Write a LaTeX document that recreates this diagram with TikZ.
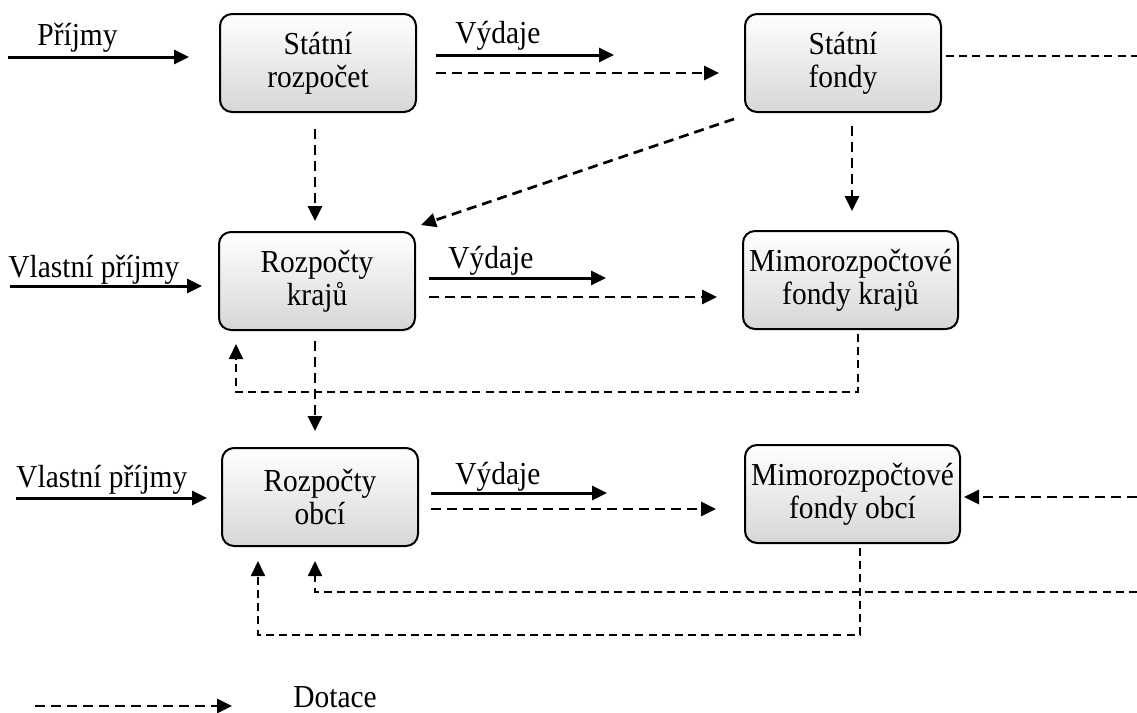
\documentclass[tikz,border=0pt]{standalone}
\usepackage{fontspec}
\setmainfont{Liberation Serif}[FakeStretch=0.92]
\usetikzlibrary{arrows.meta,calc}

\tikzset{
  budget/.style={draw=black, line width=1pt, rounded corners=6pt,
    top color=white, bottom color=black!16, minimum height=49pt,
    inner sep=0pt, align=center, font=\fontsize{16}{16.5}\selectfont},
  narrowbox/.style={budget, minimum width=98pt},
  widebox/.style={budget, minimum width=107.5pt},
  lbl/.style={inner sep=0pt, anchor=base west, font=\fontsize{16}{16.5}\selectfont},
  tip/.style={-{Triangle[length=7.5pt,width=7pt]}},
  flow/.style={tip, line width=1.5pt},
  grant/.style={tip, line width=1.35pt, dash pattern=on 5pt off 3pt},
  grantthin/.style={line width=0.9pt, dash pattern=on 4pt off 2.6pt},
}

\begin{document}
\begin{tikzpicture}[x=0.5pt, y=-0.5pt]
\useasboundingbox (0,0) rectangle (1137,713);

% budgets and funds
\node[narrowbox] (sr) at (318,63)    {Státní\\rozpočet};
\node[narrowbox] (sf) at (843,63)    {Státní\\fondy};
\node[narrowbox] (rk) at (317,281)   {Rozpočty\\krajů};
\node[widebox]   (mk) at (850.5,280) {Mimorozpočtové\\fondy krajů};
\node[narrowbox] (ro) at (320,497)   {Rozpočty\\obcí};
\node[widebox]   (mo) at (852.5,494) {Mimorozpočtové\\fondy obcí};

% free ends at the margins
\coordinate (inSR)  at (8,57);
\coordinate (inRK)  at (10,286);
\coordinate (inRO)  at (16,498);
\coordinate (outSF) at (1137,56);
\coordinate (inMO)  at (1137,497);
\coordinate (inROb) at (1137,592);
\coordinate (legS)  at (35,706);
\coordinate (legE)  at (232,706);

% revenues
\draw[flow] (inSR) -- ($(sr.west)+(-30,-6)$);
\node[lbl] (tP) at (37,45) {Příjmy};
\draw[flow] (inRK) -- ($(rk.west)+(-16,5)$);
\node[lbl] (tVP1) at (8,277) {Vlastní příjmy};
\draw[flow] (inRO) -- ($(ro.west)+(-14,1)$);
\node[lbl] (tVP2) at (16,487) {Vlastní příjmy};

% expenditures
\draw[flow] ($(sr.east)+(19,-8)$) -- ($(sf.west)+(-130,-8)$);
\node[lbl] (tV1) at (455,43) {Výdaje};
\draw[flow] ($(rk.east)+(13,-3)$) -- ($(mk.west)+(-136,-2)$);
\node[lbl] (tV2) at (448,268) {Výdaje};
\draw[flow] ($(ro.east)+(12,-4)$) -- ($(mo.west)+(-137,-1)$);
\node[lbl] (tV3) at (455,484) {Výdaje};

% grants
\draw[grant] ($(sr.east)+(19,10)$) -- ($(sf.west)+(-25,10)$);
\draw[grant] ($(sr.south)+(-3,16)$) -- ($(rk.north)+(-2,-10)$);
\draw[grant] ($(sf.south west)+(-10,6)$) -- ($(rk.north east)+(5,-6)$);
\draw[grant] ($(sf.south)+(9,13)$) -- ($(mk.north)+(1.5,-19)$);
\draw[grantthin] ($(sf.east)+(4,-7)$) -- (outSF);
\draw[grant] ($(rk.east)+(13,16)$) -- ($(mk.west)+(-25,17)$);
\draw[grant] ($(rk.south)+(-2,10)$) -- ($(ro.north)+(-5,-16)$);
\draw[grantthin, tip] ($(mk.south)+(7.5,4)$) -- ++(0,58) -| ($(rk.south west)+(18,13)$);
\draw[grant] ($(ro.east)+(12,12)$) -- ($(mo.west)+(-28,15)$);
\draw[grant] (inMO) -- ($(mo.east)+(3,3)$);
\draw[grantthin, tip] (inROb) -| ($(ro.south)+(-5,14)$);
\draw[grantthin, tip] ($(mo.south)+(7.5,4)$) -- ++(0,87) -| ($(ro.south west)+(37,14)$);

% legend
\draw[grant] (legS) -- (legE);
\node[lbl] (tD) at (293,707) {Dotace};
\end{tikzpicture}
\end{document}
